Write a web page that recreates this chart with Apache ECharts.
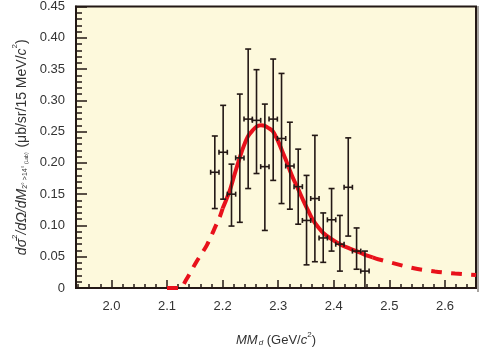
<!DOCTYPE html>
<html><head><meta charset="utf-8">
<script src="https://cdn.jsdelivr.net/npm/echarts@6/dist/echarts.min.js"></script>
<style>html,body{margin:0;padding:0;background:#fff}#c{width:480px;height:352px}</style>
</head><body><div id="c"></div>
<script>
// ---- data ----
const binCenters = [2.186, 2.201, 2.216, 2.231, 2.246, 2.261, 2.276, 2.291, 2.306, 2.321, 2.336, 2.351, 2.366, 2.381, 2.396, 2.411, 2.426, 2.441, 2.456];
const yields     = [0.185, 0.217, 0.150, 0.208, 0.270, 0.268, 0.194, 0.270, 0.239, 0.195, 0.162, 0.108, 0.143, 0.080, 0.109, 0.070, 0.161, 0.059, 0.027];
const errUpper   = [0.243, 0.292, 0.198, 0.310, 0.382, 0.349, 0.294, 0.366, 0.343, 0.265, 0.222, 0.180, 0.244, 0.120, 0.159, 0.116, 0.240, 0.096, 0.059];
const errLower   = [0.127, 0.142, 0.099, 0.105, 0.159, 0.183, 0.092, 0.172, 0.135, 0.126, 0.102, 0.037, 0.042, 0.041, 0.059, 0.027, 0.083, 0.030, 0.000];
const binHalfWidth = 0.0075;

const fitX = [2.100, 2.118, 2.124, 2.135, 2.153, 2.172, 2.188, 2.195, 2.200, 2.206, 2.213, 2.222, 2.231, 2.2385, 2.246, 2.254, 2.261, 2.269, 2.276, 2.282, 2.290, 2.297, 2.303, 2.309, 2.315, 2.321, 2.328, 2.336, 2.345, 2.357, 2.363, 2.372, 2.381, 2.396, 2.411, 2.426, 2.441, 2.456, 2.470, 2.480, 2.510, 2.544, 2.582, 2.618, 2.656];
const fitY = [0.000, 0.000, 0.000, 0.014, 0.042, 0.069, 0.100, 0.114, 0.127, 0.140, 0.156, 0.183, 0.209, 0.228, 0.243, 0.252, 0.258, 0.260, 0.259, 0.256, 0.251, 0.240, 0.228, 0.215, 0.202, 0.188, 0.173, 0.158, 0.140, 0.118, 0.108, 0.097, 0.088, 0.078, 0.070, 0.064, 0.059, 0.053, 0.049, 0.046, 0.039, 0.0315, 0.0264, 0.0231, 0.0208];
const solidFrom = 2.200, solidTo = 2.470;

const xMajorTicks = [2.0, 2.1, 2.2, 2.3, 2.4, 2.5, 2.6];
const xMinorTicks = [1.94, 1.96, 1.98, 2.02, 2.04, 2.06, 2.08, 2.12, 2.14, 2.16, 2.18, 2.22, 2.24, 2.26, 2.28, 2.32, 2.34, 2.36, 2.38, 2.42, 2.44, 2.46, 2.48, 2.52, 2.54, 2.56, 2.58, 2.62, 2.64];
const yMin = 0, yMax = 0.45, yStep = 0.05;
const xMin = 1.9363, xMax = 2.6558;

// ---- build ----
const fitPts = fitX.map((x, i) => [x, fitY[i]]);
const leftDash = fitPts.filter(p => p[0] <= solidFrom);
const solid = fitPts.filter(p => p[0] >= solidFrom && p[0] <= solidTo);
const rightDash = fitPts.filter(p => p[0] >= solidTo);
const points = binCenters.map((x, i) => [x, yields[i], errLower[i], errUpper[i]]);

const RED = '#e8111b', INK = '#231815', TXT = '#333333', FONT = 'Liberation Sans';
const LH = 18;
const tok = (extra) => Object.assign({fontFamily: FONT, color: TXT, lineHeight: LH, verticalAlign: 'bottom', fontSize: 14}, extra);

const chart = echarts.init(document.getElementById('c'), null, {renderer: 'canvas'});
chart.setOption({
  animation: false,
  backgroundColor: '#ffffff',
  grid: {left: 76, right: 4, top: 5, bottom: 61, show: true, backgroundColor: '#fdf9dc', borderColor: INK, borderWidth: 2},
  graphic: [
    {type: 'line', shape: {x1: 478, y1: 6, x2: 478, y2: 292}, style: {stroke: '#8a8680', lineWidth: 1.5}, silent: true}
  ],
  xAxis: [{
    type: 'value', min: xMin, max: xMax, position: 'bottom',
    axisLine: {show: true, onZero: false, lineStyle: {color: INK, width: 2}},
    axisTick: {show: true, inside: true, length: 8, customValues: xMajorTicks, lineStyle: {color: INK, width: 1.5}},
    axisLabel: {show: true, customValues: xMajorTicks, margin: 12, color: TXT, fontFamily: FONT, fontSize: 13, formatter: v => v.toFixed(1)},
    splitLine: {show: false},
    name: '{i|MM}{isub|d}{n| (GeV/}{i|c}{sup|2}{n|)}', nameLocation: 'middle', nameGap: 43,
    nameTextStyle: {color: TXT, fontFamily: FONT, fontSize: 13, rich: {
      n: tok({fontSize: 13, lineHeight: 16}),
      i: tok({fontSize: 13, lineHeight: 16, fontStyle: 'italic'}),
      isub: tok({fontSize: 8, lineHeight: 15, fontStyle: 'italic', padding: [0, 0, 0, 1]}),
      sup: tok({fontSize: 8, lineHeight: 16, verticalAlign: 'top'})
    }}
  }, {
    type: 'value', min: xMin, max: xMax, position: 'bottom',
    axisLine: {show: false},
    axisTick: {show: true, inside: true, length: 4, customValues: xMinorTicks, lineStyle: {color: INK, width: 1.5}},
    axisLabel: {show: false, customValues: xMinorTicks},
    splitLine: {show: false}
  }],
  yAxis: {
    type: 'value', min: yMin, max: yMax, interval: yStep,
    axisLine: {show: true, lineStyle: {color: INK, width: 2}},
    axisTick: {show: true, inside: true, length: 11, lineStyle: {color: INK, width: 1.5}},
    minorTick: {show: true, splitNumber: 5, length: 6, lineStyle: {color: INK, width: 1.5}},
    axisLabel: {margin: 11, color: TXT, fontFamily: FONT, fontSize: 13, formatter: v => v === 0 ? '0' : v.toFixed(2)},
    splitLine: {show: false},
    name: '{i|d\u03C3\u0304}{sup|2}{i|/d\u03A9/dM}{sub|2\u00B0 >14\u00B0}{subs| (Lab)}{n| (\u03BCb/sr/15 MeV/}{i|c}{sup|2}{n|)}',
    nameLocation: 'middle', nameGap: 46,
    nameTextStyle: {color: TXT, fontFamily: FONT, fontSize: 14, rich: {
      n: tok({}),
      i: tok({fontStyle: 'italic'}),
      sub: tok({fontSize: 7, lineHeight: 16}),
      subs: tok({fontSize: 5, lineHeight: 16, padding: [0, 1, 0, 0]}),
      sup: tok({fontSize: 8, verticalAlign: 'top'})
    }}
  },
  series: [
    {type: 'line', data: leftDash, xAxisIndex: 0, showSymbol: false, smooth: 0.3, clip: true, z: 3,
     lineStyle: {color: RED, width: 4, type: [11, 8]}},
    {type: 'line', data: solid, xAxisIndex: 0, showSymbol: false, smooth: 0.3, clip: true, z: 3,
     lineStyle: {color: RED, width: 4}},
    {type: 'line', data: rightDash, xAxisIndex: 0, showSymbol: false, smooth: 0.3, clip: true, z: 3,
     lineStyle: {color: RED, width: 4, type: [11, 9]}},
    {type: 'custom', xAxisIndex: 0, data: points, z: 4,
     renderItem: function (params, api) {
       const x = api.value(0), y = api.value(1), lo = api.value(2), hi = api.value(3);
       const c = api.coord([x, y]);
       const pLo = api.coord([x, lo]);
       const pHi = api.coord([x, hi]);
       const pL = api.coord([x - binHalfWidth, y]);
       const pR = api.coord([x + binHalfWidth, y]);
       const st = {stroke: INK, lineWidth: 1.6};
       const cap = 3, hcap = 2.5;
       return {type: 'group', children: [
         {type: 'line', shape: {x1: c[0], y1: pLo[1], x2: c[0], y2: pHi[1]}, style: st},
         {type: 'line', shape: {x1: c[0] - cap, y1: pHi[1], x2: c[0] + cap, y2: pHi[1]}, style: st},
         {type: 'line', shape: {x1: c[0] - cap, y1: pLo[1], x2: c[0] + cap, y2: pLo[1]}, style: st},
         {type: 'line', shape: {x1: pL[0], y1: c[1], x2: pR[0], y2: c[1]}, style: st},
         {type: 'line', shape: {x1: pL[0], y1: c[1] - hcap, x2: pL[0], y2: c[1] + hcap}, style: st},
         {type: 'line', shape: {x1: pR[0], y1: c[1] - hcap, x2: pR[0], y2: c[1] + hcap}, style: st}
       ]};
     }}
  ]
});
</script></body></html>
